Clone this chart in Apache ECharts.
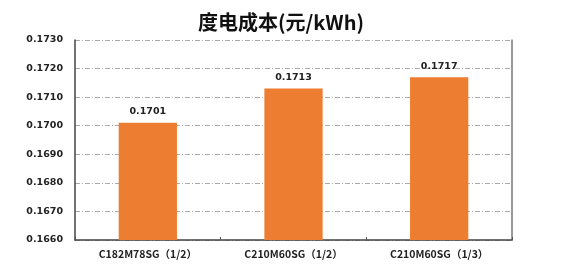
<!DOCTYPE html>
<html>
<head>
<meta charset="utf-8">
<script src="https://cdn.jsdelivr.net/npm/echarts@6/dist/echarts.min.js"></script>
<style>
  html, body { margin: 0; padding: 0; background: #fff; }
  #chart { width: 585px; height: 280px; }
</style>
</head>
<body>
<div id="chart"></div>
<script>
const categories = ['C182M78SG（1/2）', 'C210M60SG（1/2）', 'C210M60SG（1/3）'];
const costValues = [0.1701, 0.1713, 0.1717];

const myChart = echarts.init(document.getElementById('chart'));

const option = {
  backgroundColor: '#fff',
  title: {
    text: '度电成本(元/kWh)',
    left: 276,
    textAlign: 'center',
    top: 7,
    textStyle: {
      fontFamily: 'Noto Sans CJK SC',
      fontSize: 20,
      fontWeight: 'bold',
      color: '#111'
    }
  },
  grid: { left: 75, right: 73, top: 40, bottom: 40 },
  xAxis: {
    type: 'category',
    data: categories,
    axisLine: { lineStyle: { color: '#444', width: 1.5 } },
    axisTick: { show: true, inside: true, length: 3, lineStyle: { color: '#555' } },
    axisLabel: {
      color: '#222',
      fontSize: 10.5,
      fontWeight: 'bold',
      fontFamily: 'Noto Sans CJK SC',
      margin: 9
    }
  },
  yAxis: [
    {
      type: 'value',
      min: 0.1660,
      max: 0.1730,
      interval: 0.001,
      axisLine: { show: true, lineStyle: { color: '#444', width: 1.5 } },
      axisTick: { show: false },
      axisLabel: {
        formatter: v => v.toFixed(4),
        color: '#222',
        fontSize: 9.5,
        fontWeight: 'bold',
        fontFamily: 'DejaVu Sans',
        margin: 12
      },
      splitLine: { lineStyle: { color: '#aaa', type: [5, 2, 1, 2], width: 1 } }
    },
    {
      type: 'value',
      min: 0.1660,
      max: 0.1730,
      interval: 0.001,
      position: 'right',
      axisLine: { show: true, lineStyle: { color: '#777', width: 1.5 } },
      axisTick: { show: false },
      axisLabel: { show: false },
      splitLine: { show: false }
    }
  ],
  series: [
    {
      type: 'bar',
      data: costValues,
      barWidth: '40%',
      itemStyle: { color: '#ED7D31' },
      label: {
        show: true,
        position: 'top',
        formatter: p => p.value.toFixed(4),
        color: '#222',
        fontSize: 9.5,
        fontWeight: 'bold',
        fontFamily: 'DejaVu Sans',
        distance: 6
      }
    }
  ]
};

myChart.setOption(option);
</script>
</body>
</html>
